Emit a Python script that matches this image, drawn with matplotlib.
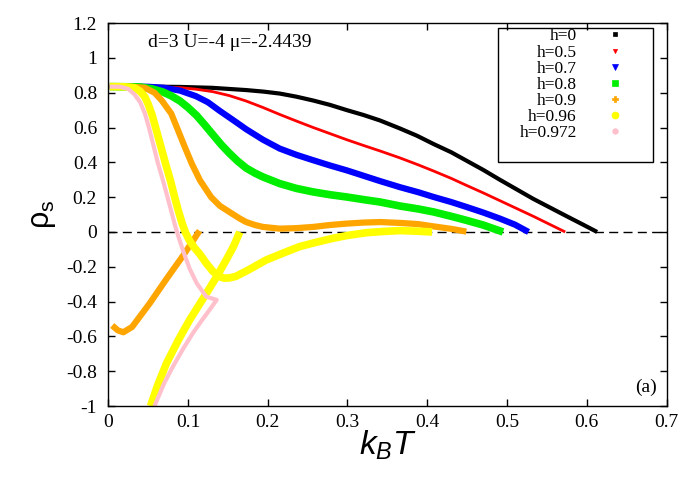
import matplotlib
matplotlib.use("Agg")
import matplotlib.pyplot as plt
from matplotlib.lines import Line2D
from matplotlib.patches import Rectangle

plt.rcParams['axes.unicode_minus'] = False
plt.rcParams['font.family'] = ['Liberation Serif', 'DejaVu Serif']
plt.rcParams['mathtext.fontset'] = 'custom'
plt.rcParams['mathtext.rm'] = 'Liberation Sans'
plt.rcParams['mathtext.it'] = 'Liberation Sans:italic'

# ---- data ----
T_h0 = [0.002, 0.05, 0.09, 0.13, 0.173, 0.195, 0.215, 0.236, 0.257, 0.278, 0.299, 0.32, 0.341, 0.366, 0.387, 0.408,
        0.43, 0.449, 0.47, 0.491, 0.512, 0.533, 0.554, 0.575, 0.595, 0.613]
R_h0 = [0.835, 0.835, 0.833, 0.828, 0.815, 0.806, 0.795, 0.777, 0.755, 0.73, 0.70, 0.672, 0.64, 0.594, 0.553, 0.505,
        0.458, 0.41, 0.357, 0.30, 0.245, 0.19, 0.14, 0.09, 0.043, 0.0]

T_h05 = [0.002, 0.05, 0.09, 0.11, 0.131, 0.152, 0.173, 0.194, 0.215, 0.236, 0.257, 0.278, 0.299, 0.32, 0.341, 0.366,
         0.389, 0.408, 0.43, 0.449, 0.47, 0.491, 0.512, 0.533, 0.553, 0.573]
R_h05 = [0.835, 0.835, 0.829, 0.82, 0.806, 0.783, 0.752, 0.715, 0.675, 0.637, 0.60, 0.565, 0.53, 0.497, 0.465, 0.425,
         0.385, 0.35, 0.308, 0.268, 0.225, 0.18, 0.135, 0.09, 0.045, 0.0]

T_h07 = [0.002, 0.05, 0.07, 0.09, 0.11, 0.125, 0.14, 0.159, 0.173, 0.194, 0.215, 0.236, 0.257, 0.278, 0.299, 0.32,
         0.341, 0.366, 0.389, 0.408, 0.43, 0.449, 0.47, 0.491, 0.51, 0.527]
R_h07 = [0.835, 0.834, 0.828, 0.812, 0.78, 0.745, 0.695, 0.635, 0.59, 0.53, 0.479, 0.443, 0.412, 0.382, 0.354, 0.323,
         0.292, 0.257, 0.228, 0.201, 0.172, 0.144, 0.112, 0.077, 0.042, 0.0]

T_h08 = [0.002, 0.04, 0.055, 0.068, 0.079, 0.09, 0.1, 0.111, 0.121, 0.131, 0.142, 0.152, 0.162, 0.173, 0.184, 0.194,
         0.215, 0.236, 0.257, 0.278, 0.299, 0.32, 0.341, 0.366, 0.389, 0.408, 0.43, 0.449, 0.47, 0.495]
R_h08 = [0.835, 0.833, 0.822, 0.805, 0.782, 0.752, 0.715, 0.668, 0.615, 0.56, 0.50, 0.452, 0.408, 0.367, 0.338, 0.316,
         0.278, 0.25, 0.23, 0.214, 0.201, 0.186, 0.172, 0.149, 0.132, 0.115, 0.09, 0.067, 0.04, 0.0]

T_h09 = [0.002, 0.03, 0.046, 0.058, 0.067, 0.079, 0.087, 0.096, 0.105, 0.115, 0.129, 0.14, 0.155, 0.165, 0.173, 0.184,
         0.194, 0.215, 0.236, 0.257, 0.278, 0.299, 0.32, 0.341, 0.366, 0.389, 0.408, 0.43, 0.449]
R_h09 = [0.835, 0.834, 0.828, 0.80, 0.756, 0.68, 0.59, 0.488, 0.39, 0.297, 0.20, 0.15, 0.106, 0.077, 0.057, 0.04,
         0.029, 0.019, 0.022, 0.029, 0.04, 0.048, 0.054, 0.057, 0.052, 0.045, 0.032, 0.018, 0.002]
T_h09b = [0.005, 0.012, 0.019, 0.03, 0.052, 0.073, 0.094, 0.1145]
R_h09b = [-0.537, -0.565, -0.576, -0.545, -0.41, -0.27, -0.135, 0.007]

T_h096 = [0.002, 0.02, 0.033, 0.04, 0.046, 0.05, 0.055, 0.06, 0.066, 0.072, 0.078, 0.083, 0.088, 0.093, 0.097, 0.102,
          0.108, 0.115, 0.123, 0.131, 0.138, 0.145, 0.152, 0.16, 0.175, 0.198, 0.22, 0.24, 0.26, 0.282, 0.30, 0.324,
          0.345, 0.366, 0.385, 0.406]
R_h096 = [0.835, 0.834, 0.828, 0.808, 0.775, 0.735, 0.672, 0.59, 0.49, 0.39, 0.295, 0.205, 0.12, 0.045, -0.005, -0.05,
          -0.09, -0.128, -0.18, -0.225, -0.253, -0.265, -0.264, -0.255, -0.22, -0.161, -0.12, -0.084, -0.06, -0.036,
          -0.02, -0.004, 0.003, 0.008, 0.005, 0.0]
T_h096b = [0.053, 0.062, 0.073, 0.088, 0.102, 0.12, 0.136, 0.148, 0.157, 0.165]
R_h096b = [-1.0, -0.88, -0.755, -0.62, -0.506, -0.375, -0.257, -0.16, -0.084, 0.0]

T_h0972 = [0.002, 0.015, 0.025, 0.033, 0.04, 0.046, 0.051, 0.056, 0.062, 0.069, 0.074, 0.079, 0.083, 0.0875,
           0.094, 0.102, 0.111, 0.123, 0.136, 0.127, 0.117, 0.106, 0.094, 0.081, 0.07, 0.058]
R_h0972 = [0.835, 0.834, 0.822, 0.79, 0.745, 0.68, 0.60, 0.51, 0.40, 0.29, 0.205, 0.12, 0.05, -0.02,
           -0.11, -0.21, -0.295, -0.372, -0.39, -0.448, -0.51, -0.582, -0.67, -0.774, -0.87, -1.0]

labels = ['h=0', 'h=0.5', 'h=0.7', 'h=0.8', 'h=0.9', 'h=0.96', 'h=0.972']
colors = ['black', 'red', 'blue', '#00ee00', 'orange', 'yellow', 'pink']
widths = [3.0, 2.0, 4.5, 5.5, 4.5, 5.5, 3.0]
markers = ['s', 'v', 'v', 's', 'P', 'o', 'o']
msizes = [3, 3, 5, 5, 5, 5, 4]

xticks = [0, 0.1, 0.2, 0.3, 0.4, 0.5, 0.6, 0.7]
xticklabels = ['0', '0.1', '0.2', '0.3', '0.4', '0.5', '0.6', '0.7']
yticks = [-1, -0.8, -0.6, -0.4, -0.2, 0, 0.2, 0.4, 0.6, 0.8, 1, 1.2]
yticklabels = ['-1', '-0.8', '-0.6', '-0.4', '-0.2', '0', '0.2', '0.4', '0.6', '0.8', '1', '1.2']

# ---- figure ----
fig = plt.figure(figsize=(6.85, 4.8), dpi=100)
ax = fig.add_axes([0.158, 0.154, 0.815, 0.798])

ax.axhline(0, color='black', lw=1.0, dashes=(6.5, 3.8), zorder=1)

series = [
    [(T_h0, R_h0)],
    [(T_h05, R_h05)],
    [(T_h07, R_h07)],
    [(T_h08, R_h08)],
    [(T_h09, R_h09), (T_h09b, R_h09b)],
    [(T_h096, R_h096), (T_h096b, R_h096b)],
    [(T_h0972, R_h0972)],
]
for segs, c, w in zip(series, colors, widths):
    for t, r in segs:
        ax.plot(t, r, color=c, lw=w, solid_capstyle='butt', solid_joinstyle='round', zorder=2)

ax.set_xlim(0, 0.7)
ax.set_ylim(-1, 1.2)
ax.set_xticks(xticks)
ax.set_xticklabels(xticklabels)
ax.set_yticks(yticks)
ax.set_yticklabels(yticklabels)
ax.tick_params(direction='in', length=5, width=1, top=True, right=True, labelsize=14)
ax.tick_params(axis='x', pad=6)
ax.tick_params(axis='y', pad=8)
for s in ax.spines.values():
    s.set_linewidth(1.0)

ax.set_xlabel(r'$k_BT$', fontsize=24, labelpad=-2)
ax.set_ylabel(r'$\mathrm{\rho}_{\mathrm{s}}$', fontsize=22, labelpad=6)

ax.text(0.071, 0.950, 'd=3 U=-4 \u03bc=-2.4439', transform=ax.transAxes,
        ha='left', va='center', fontsize=14)
ax.text(0.963, 0.05, '(a)', transform=ax.transAxes, ha='center', va='center', fontsize=14)

# legend (gnuplot style: right-aligned text, marker to the right)
handles = [Line2D([], [], linestyle='none', marker=m, markersize=ms, color=c, markeredgewidth=0.5)
           for m, ms, c in zip(markers, msizes, colors)]
leg = ax.legend(handles, labels, loc='upper right', bbox_to_anchor=(0.923, 0.941),
                bbox_transform=fig.transFigure, markerfirst=False, frameon=False,
                borderpad=0, borderaxespad=0, handlelength=2.0, handletextpad=1.2,
                labelspacing=0.0, fontsize=12.5)
ax.add_patch(Rectangle((0.698, 0.637), 0.278, 0.350, transform=ax.transAxes,
                       fill=False, edgecolor='black', lw=1.0, zorder=5))

fig.savefig('out.png', dpi=100)
